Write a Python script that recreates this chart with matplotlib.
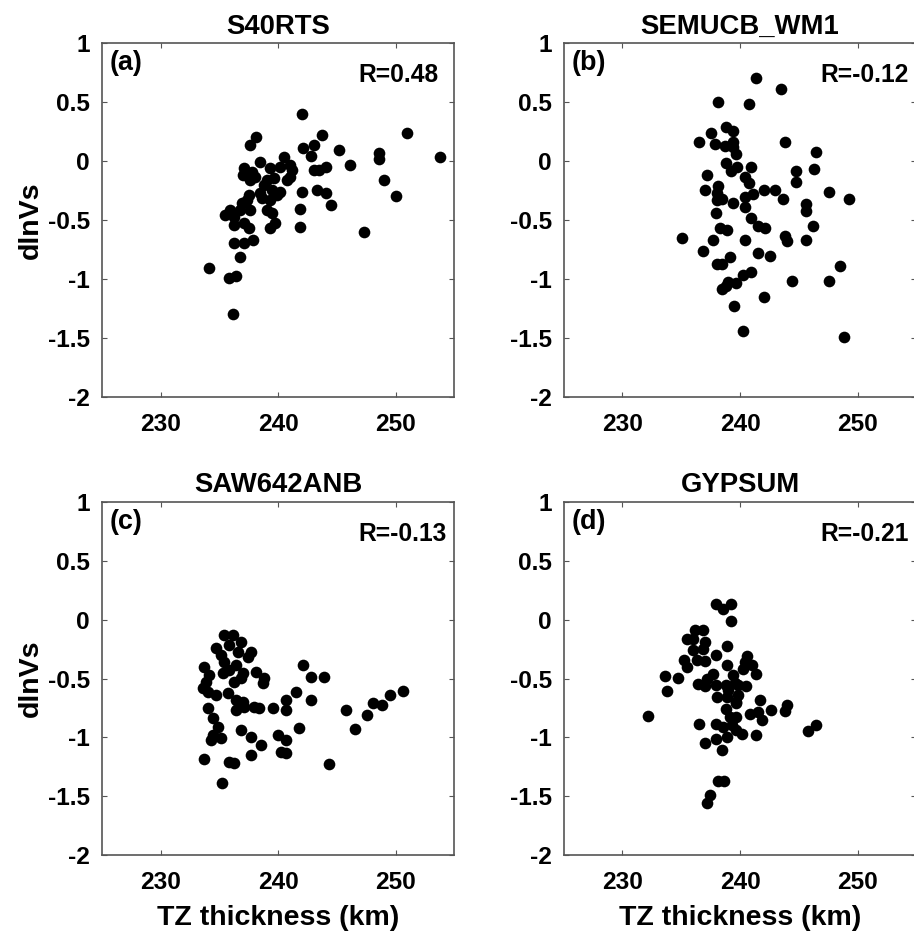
import matplotlib
matplotlib.use("Agg")
import matplotlib.pyplot as plt

plt.rcParams['font.family'] = ['Liberation Sans', 'DejaVu Sans']
plt.rcParams['font.weight'] = 'bold'
plt.rcParams['axes.unicode_minus'] = False

# Transition-zone thickness (km) vs. dlnVs for each tomography model
models = ['S40RTS', 'SEMUCB_WM1', 'SAW642ANB', 'GYPSUM']
panel_tags = ['(a)', '(b)', '(c)', '(d)']
r_values = ['R=0.48', 'R=-0.12', 'R=-0.13', 'R=-0.21']

s40rts_tz = [
    238.15, 243.75, 237.59, 242.1, 243.04, 245.17, 242.84, 240.48, 238.5, 241.05,
    237.07, 239.35, 240.2, 241.2, 237.0, 237.8, 238.07, 243.04, 244.04, 243.47,
    237.64, 239.06, 239.63, 240.77, 241.05, 238.78, 239.49, 240.2, 238.5, 242.05,
    243.33, 244.04, 244.46, 237.5, 237.36, 236.93, 238.64, 239.35, 239.92, 241.9,
    241.9, 235.94, 235.51, 236.22, 236.79, 237.64, 239.06, 239.49, 236.22, 237.07,
    237.5, 239.77, 239.35, 236.22, 237.07, 237.84, 236.73, 234.09, 242.05, 251.0,
    253.8, 246.1, 248.6, 248.6, 249.0, 250.0, 247.35, 235.8, 236.4, 236.2,
]
s40rts_dvs = [
    0.203, 0.223, 0.135, 0.11, 0.138, 0.096, 0.045, 0.034, -0.006, -0.031,
    -0.06, -0.06, -0.045, -0.074, -0.116, -0.088, -0.13, -0.074, -0.045, -0.074,
    -0.158, -0.158, -0.144, -0.158, -0.13, -0.2, -0.243, -0.257, -0.271, -0.257,
    -0.243, -0.271, -0.37, -0.285, -0.328, -0.356, -0.314, -0.328, -0.285, -0.404,
    -0.554, -0.413, -0.455, -0.469, -0.413, -0.413, -0.413, -0.441, -0.54, -0.526,
    -0.568, -0.526, -0.568, -0.69, -0.695, -0.667, -0.808, -0.907, 0.40, 0.237,
    0.04, -0.03, 0.068, 0.02, -0.155, -0.297, -0.60, -0.99, -0.97, -1.29,
]

semucb_tz = [
    241.33, 243.46, 238.1, 240.8, 238.8, 239.38, 237.56, 236.5, 237.9, 238.75,
    239.38, 239.4, 239.7, 243.8, 246.5, 238.8, 239.77, 239.2, 240.96, 244.73,
    246.3, 237.2, 240.45, 240.76, 244.73, 238.16, 237.03, 242.04, 242.97, 238.0,
    241.13, 240.42, 247.6, 249.24, 243.65, 238.0, 238.44, 239.38, 240.45, 245.6,
    245.6, 237.93, 240.96, 238.3, 238.87, 241.56, 242.1, 246.2, 235.1, 237.73,
    240.45, 243.8, 244.0, 245.6, 236.83, 241.5, 242.55, 238.07, 238.5, 239.15,
    248.5, 240.26, 240.96, 239.0, 239.66, 244.39, 247.6, 238.44, 238.8, 242.07,
    239.5, 240.23, 248.84,
]
semucb_dvs = [
    0.703, 0.61, 0.506, 0.486, 0.294, 0.257, 0.237, 0.167, 0.147, 0.133,
    0.167, 0.124, 0.062, 0.167, 0.076, -0.011, -0.045, -0.082, -0.045, -0.082,
    -0.065, -0.116, -0.13, -0.186, -0.172, -0.206, -0.243, -0.243, -0.243, -0.271,
    -0.277, -0.3, -0.26, -0.316, -0.316, -0.328, -0.322, -0.35, -0.384, -0.36,
    -0.418, -0.441, -0.477, -0.565, -0.582, -0.545, -0.568, -0.545, -0.653, -0.667,
    -0.667, -0.633, -0.672, -0.67, -0.76, -0.78, -0.8, -0.867, -0.87, -0.81,
    -0.887, -0.96, -0.94, -1.02, -1.03, -1.01, -1.01, -1.08, -1.06, -1.15,
    -1.226, -1.438, -1.49,
]

saw642_tz = [
    235.43, 236.14, 236.85, 234.73, 235.86, 236.57, 235.15, 235.43, 237.7, 237.42,
    233.73, 236.43, 235.86, 235.29, 236.99, 236.28, 236.85, 238.13, 238.83, 238.69,
    234.16, 233.88, 233.59, 234.02, 234.73, 235.72, 236.43, 236.99, 236.43, 237.13,
    237.98, 238.41, 239.54, 240.68, 240.68, 241.52, 242.09, 242.8, 243.93, 242.8,
    234.02, 234.44, 234.87, 234.44, 235.15, 234.3, 236.85, 237.7, 238.55, 237.7,
    239.97, 240.68, 240.25, 240.68, 241.81, 233.73, 235.86, 236.28, 244.36, 235.24,
    245.78, 246.52, 247.59, 248.1, 248.84, 249.55, 250.6,
]
saw642_dvs = [
    -0.13, -0.13, -0.186, -0.243, -0.214, -0.271, -0.3, -0.356, -0.271, -0.313,
    -0.398, -0.384, -0.427, -0.455, -0.455, -0.526, -0.497, -0.441, -0.497, -0.54,
    -0.469, -0.526, -0.582, -0.611, -0.639, -0.625, -0.681, -0.696, -0.766, -0.738,
    -0.738, -0.752, -0.752, -0.681, -0.766, -0.611, -0.384, -0.483, -0.483, -0.681,
    -0.752, -0.837, -0.908, -0.979, -1.007, -1.021, -0.936, -0.993, -1.064, -1.148,
    -0.979, -1.021, -1.12, -1.134, -0.922, -1.185, -1.205, -1.219, -1.228, -1.383,
    -0.763, -0.925, -0.811, -0.707, -0.727, -0.636, -0.605,
]

gypsum_tz = [
    237.96, 238.58, 239.2, 239.2, 235.47, 236.03, 236.18, 236.88, 237.0, 236.88,
    235.98, 238.87, 237.96, 236.3, 237.0, 235.27, 235.47, 238.87, 240.57, 240.42,
    241.0, 240.28, 241.36, 233.63, 234.7, 233.82, 237.73, 237.17, 236.46, 237.0,
    237.96, 238.8, 239.38, 239.86, 240.5, 238.0, 238.87, 239.86, 239.7, 241.7,
    238.8, 240.85, 241.56, 241.84, 242.6, 243.82, 243.97, 239.7, 232.2, 236.52,
    237.96, 238.58, 239.3, 240.14, 238.87, 237.96, 237.0, 241.36, 238.5, 245.8,
    246.5, 238.1, 238.67, 237.45, 237.22, 239.15, 239.54, 239.68, 238.98, 239.68,
]
gypsum_dvs = [
    0.131, 0.094, 0.131, -0.013, -0.16, -0.16, -0.09, -0.084, -0.19, -0.245,
    -0.26, -0.226, -0.302, -0.345, -0.35, -0.339, -0.4, -0.387, -0.31, -0.36,
    -0.387, -0.415, -0.457, -0.48, -0.494, -0.605, -0.457, -0.5, -0.548, -0.562,
    -0.557, -0.557, -0.472, -0.557, -0.565, -0.656, -0.656, -0.64, -0.7, -0.684,
    -0.76, -0.797, -0.783, -0.854, -0.763, -0.778, -0.727, -0.826, -0.817, -0.888,
    -0.888, -0.91, -0.896, -0.967, -0.995, -1.015, -1.046, -0.976, -1.103, -0.947,
    -0.891, -1.372, -1.369, -1.49, -1.556, -0.83, -0.54, -0.709, -0.596, -0.936,
]

x_ticks = [230, 240, 250]
y_ticks = [-2, -1.5, -1, -0.5, 0, 0.5, 1]
y_tick_labels = ['-2', '-1.5', '-1', '-0.5', '0', '0.5', '1']

series = [
    (s40rts_tz, s40rts_dvs),
    (semucb_tz, semucb_dvs),
    (saw642_tz, saw642_dvs),
    (gypsum_tz, gypsum_dvs),
]

fig = plt.figure(figsize=(9.14, 9.34), dpi=100)

# axes boxes in figure fractions: left, bottom, width, height
positions = [
    [0.1113, 0.5746, 0.3859, 0.3790],
    [0.6167, 0.5746, 0.3859, 0.3790],
    [0.1113, 0.0843, 0.3859, 0.3783],
    [0.6167, 0.0843, 0.3859, 0.3783],
]

spine_color = '#555555'

for i, (tz, dvs) in enumerate(series):
    ax = fig.add_axes(positions[i])
    ax.plot(tz, dvs, 'o', color='black', markersize=8.4, markeredgewidth=0,
            clip_on=False)

    ax.set_xlim(225, 255)
    ax.set_ylim(-2, 1)
    ax.set_xticks(x_ticks)
    ax.set_xticklabels([str(t) for t in x_ticks])
    ax.set_yticks(y_ticks)
    ax.set_yticklabels(y_tick_labels)

    ax.tick_params(axis='both', direction='in', length=3.6, width=0.8,
                   color=spine_color, labelsize=17.6, top=True, right=True)
    ax.tick_params(axis='x', pad=11.5)
    ax.tick_params(axis='y', pad=8.5)
    for lbl in ax.get_xticklabels() + ax.get_yticklabels():
        lbl.set_fontweight('bold')
    for sp in ax.spines.values():
        sp.set_color(spine_color)
        sp.set_linewidth(1.2)

    ax.set_title(models[i], fontsize=19.8, fontweight='bold', pad=7)
    ax.text(225.7, 0.83, panel_tags[i], fontsize=19.4, fontweight='bold',
            ha='left', va='center')
    ax.text(246.8, 0.73, r_values[i], fontsize=17.7, fontweight='bold',
            ha='left', va='center')

    if i % 2 == 0:
        ax.set_ylabel('dlnVs', fontsize=20.5, fontweight='bold', labelpad=3)
    if i >= 2:
        ax.set_xlabel('TZ thickness (km)', fontsize=20.5, fontweight='bold',
                      labelpad=8)

plt.savefig('out.png', dpi=100)
plt.close()
